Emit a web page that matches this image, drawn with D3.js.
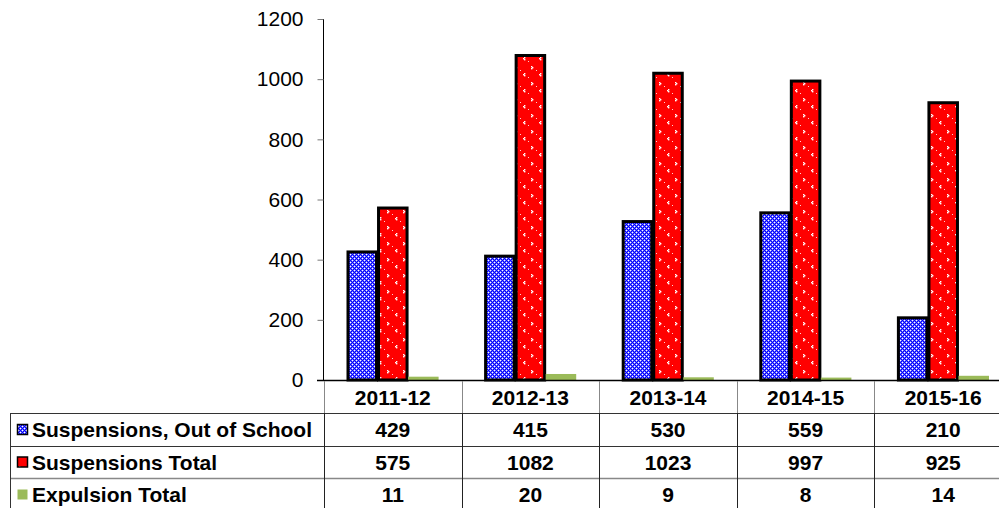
<!DOCTYPE html>
<html><head><meta charset="utf-8">
<script src="https://cdn.jsdelivr.net/npm/d3@7"></script>
<style>body{margin:0;background:#fff;}svg{display:block;font-family:"Liberation Sans",Arial,sans-serif;}</style>
</head><body>
<script>
const categories = ["2011-12","2012-13","2013-14","2014-15","2015-16"];
const seriesNames = ["Suspensions, Out of School","Suspensions Total","Expulsion Total"];
const outOfSchool = [429,415,530,559,210];
const suspensionsTotal = [575,1082,1023,997,925];
const expulsionTotal = [11,20,9,8,14];
const yTicks = [0,200,400,600,800,1000,1200];

const W=999,H=508;
const svg=d3.select("body").append("svg").attr("width",W).attr("height",H);
const defs=svg.append("defs");
// blue dotted pattern
const pb=defs.append("pattern").attr("id","pBlue").attr("patternUnits","userSpaceOnUse").attr("width",4).attr("height",4);
pb.append("rect").attr("width",4).attr("height",4).attr("fill","#0000ff");
[[0,0],[2,2]].forEach(([a,b])=>pb.append("rect").attr("x",a).attr("y",b).attr("width",1).attr("height",1).attr("fill","#ffffff"));
[[1,0],[0,1],[3,2],[2,3],[3,0],[0,3],[1,2],[2,1]].forEach(([a,b])=>pb.append("rect").attr("x",a).attr("y",b).attr("width",1).attr("height",1).attr("fill","#6a6aff"));
// red pattern with small chevrons
const pr=defs.append("pattern").attr("id","pRed").attr("patternUnits","userSpaceOnUse").attr("width",16).attr("height",16);
pr.append("rect").attr("width",16).attr("height",16).attr("fill","#ff0000");
[[3,2],[4,3],[3,4],[12,9],[11,10],[12,11]].forEach(([a,b])=>pr.append("rect").attr("x",a).attr("y",b).attr("width",1.4).attr("height",1.4).attr("fill","#fff"));
[[8,6],[0,13]].forEach(([a,b])=>pr.append("rect").attr("x",a).attr("y",b).attr("width",1).attr("height",1).attr("fill","#ffd0d0"));

const fills=["url(#pBlue)","url(#pRed)","#9bbb59"];
const strokes=["#000","#000","none"];
const values=[outOfSchool,suspensionsTotal,expulsionTotal];

const x=d3.scaleBand().domain(categories).range([324,1012]);
const xs=d3.scaleBand().domain(seriesNames).range([23,x.bandwidth()-23]);
const y=d3.scaleLinear().domain([0,1200]).range([380,19]);

// bars
seriesNames.forEach((s,si)=>{
  svg.append("g").selectAll("rect").data(categories).join("rect")
    .attr("x",c=>x(c)+xs(s)+(si<2?1:0))
    .attr("width",xs.bandwidth()-(si<2?2:0))
    .attr("y",(c,i)=>y(values[si][i])+(si<2?1:0))
    .attr("height",(c,i)=>y(0)-y(values[si][i])-(si<2?1:0))
    .attr("fill",fills[si]).attr("stroke",strokes[si]).attr("stroke-width",si<2?3:0);
});

// y axis
const ya=svg.append("g").attr("transform","translate(323.5,0)")
  .call(d3.axisLeft(y).tickValues(yTicks).tickSize(6).tickPadding(14).tickFormat(d3.format("d")));
ya.select(".domain").attr("stroke","#000").attr("d","M0,"+y(1200)+"V"+y(0));
ya.selectAll(".tick line").attr("stroke","#777");
ya.selectAll("text").attr("font-size",21).attr("fill","#000").attr("font-family","Liberation Sans, Arial, sans-serif");

// baseline
svg.append("line").attr("x1",317).attr("x2",W).attr("y1",380.5).attr("y2",380.5).attr("stroke","#000").attr("stroke-width",1.3);

// table
const rowTops=[382,413,446,478,511];
const tbl=svg.append("g");
[413,446,478].forEach((yy,i)=>tbl.append("line").attr("x1",10).attr("x2",W).attr("y1",yy+0.5).attr("y2",yy+0.5).attr("stroke",i==2?"#888":"#333").attr("stroke-width",i==2?1.5:1));
tbl.append("line").attr("x1",10.5).attr("x2",10.5).attr("y1",413).attr("y2",H).attr("stroke","#333");
const bounds=categories.map(c=>x(c));
bounds.forEach(b=>{
  tbl.append("line").attr("x1",Math.round(b)+0.5).attr("x2",Math.round(b)+0.5).attr("y1",381).attr("y2",413).attr("stroke","#888");
  tbl.append("line").attr("x1",Math.round(b)+0.5).attr("x2",Math.round(b)+0.5).attr("y1",413).attr("y2",H).attr("stroke","#222");
});
tbl.selectAll("text.cat").data(categories).join("text").attr("class","cat")
  .attr("x",c=>x(c)+x.bandwidth()/2).attr("y",(rowTops[0]+rowTops[1])/2+7.5)
  .attr("text-anchor","middle").attr("font-size",21).attr("font-weight","bold").text(c=>c);
seriesNames.forEach((s,si)=>{
  const cy=(rowTops[si+1]+rowTops[si+2])/2;
  tbl.append("rect").attr("x",17.5).attr("y",cy-5).attr("width",10).attr("height",10)
    .attr("fill",fills[si]).attr("stroke",si<2?"#000":"none").attr("stroke-width",1.5);
  tbl.append("text").attr("x",32).attr("y",cy+7.5).attr("font-size",21).attr("font-weight","bold").text(s);
  tbl.selectAll("text.v"+si).data(categories).join("text").attr("class","v"+si)
    .attr("x",c=>x(c)+x.bandwidth()/2).attr("y",cy+7.5).attr("text-anchor","middle")
    .attr("font-size",21).attr("font-weight","bold").text((c,i)=>values[si][i]);
});
</script>
</body></html>
